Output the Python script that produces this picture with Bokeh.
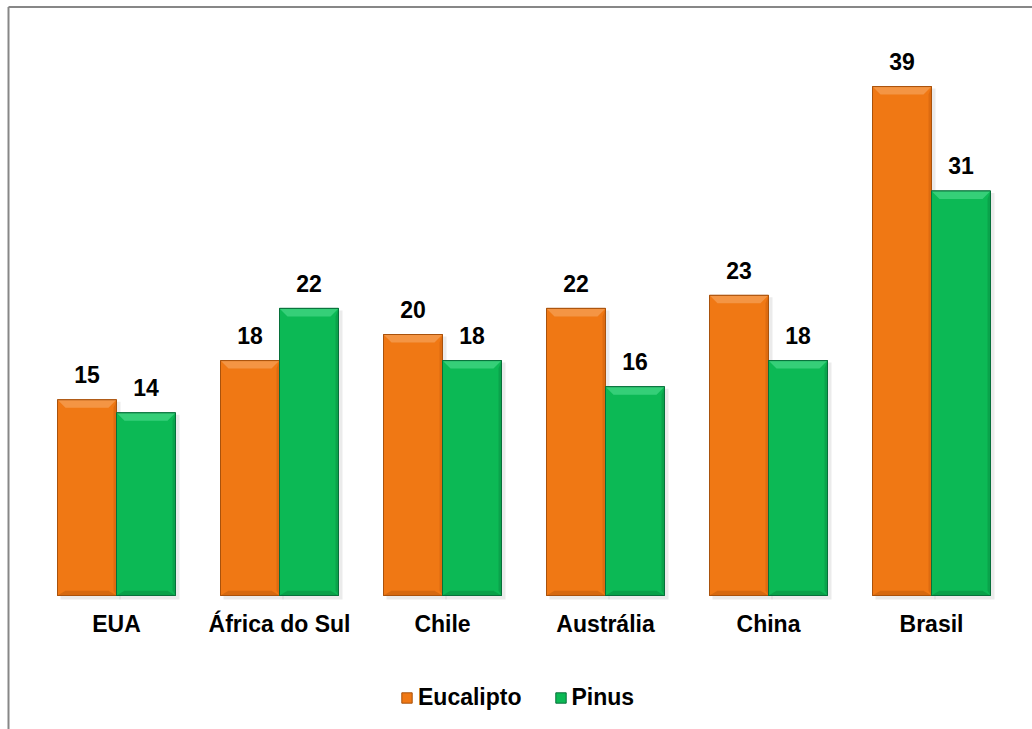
import numpy as np
from bokeh.plotting import figure
from bokeh.models import Range1d, Legend, LegendItem, ColumnDataSource
from bokeh.core.properties import value
from bokeh.embed import file_html
from bokeh.resources import INLINE

categories = ["EUA", "África do Sul", "Chile", "Austrália", "China", "Brasil"]
series_names = ["Eucalipto", "Pinus"]
eucalipto = [15, 18, 20, 22, 23, 39]
pinus = [14, 22, 18, 16, 18, 31]

W, H = 1032, 729
PX_X = 163.0   # pixels per category slot
PX_Y = 13.05   # pixels per value unit
x_start = -116 / PX_X
y_end = 595 / PX_Y
FONT = value("Liberation Sans")

p = figure(width=W, height=H, output_backend="svg", toolbar_location=None,
           x_range=Range1d(x_start, x_start + W / PX_X),
           y_range=Range1d(y_end - H / PX_Y, y_end),
           x_axis_type=None, y_axis_type=None, min_border=0,
           background_fill_color="white", border_fill_color="white")
p.grid.visible = False
p.outline_line_color = None

# chart-area border (left and top edges)
bx = x_start + 8 / PX_X
by = y_end - 6.5 / PX_Y
y_bot = y_end - H / PX_Y
x_right = x_start + W / PX_X
p.segment(x0=[bx, bx], y0=[by, by], x1=[bx, x_right], y1=[y_bot, by],
          line_color="#878787", line_width=2)

bar_w = 59 / PX_X
dx = 8 / PX_X
dy = 8 / PX_Y
idx = np.arange(len(categories))

styles = [
    dict(base="#F07814", top="#F59A4C", bottom="#C45F0D", edge="#A9520C", right="#D8680F"),
    dict(base="#0CB955", top="#3DD27F", bottom="#08913F", edge="#07703A", right="#0A9E48"),
]

renderers = []
for k, (vals, st) in enumerate(zip([eucalipto, pinus], styles)):
    vals = np.array(vals, dtype=float)
    xc = idx + (k - 0.5) * bar_w
    left = xc - bar_w / 2
    right = xc + bar_w / 2
    # soft shadow
    p.quad(left=left + 3 / PX_X, right=right + 4 / PX_X, top=vals - 2 / PX_Y,
           bottom=np.full(len(vals), -4 / PX_Y), fill_color="#000000", fill_alpha=0.08,
           line_color=None)
    src = ColumnDataSource(dict(x=xc, top=vals))
    r = p.vbar(x="x", top="top", bottom=0, width=bar_w, source=src,
               fill_color=st["base"], line_color=st["edge"], line_width=1)
    renderers.append(r)
    # top bevel
    p.patches(xs=[[l, rr, rr - dx, l + dx] for l, rr in zip(left, right)],
              ys=[[v, v, v - dy, v - dy] for v in vals],
              fill_color=st["top"], line_color=None, fill_alpha=0.85)
    # bottom bevel
    p.patches(xs=[[l, rr, rr - dx, l + dx] for l, rr in zip(left, right)],
              ys=[[0, 0, dy * 0.6, dy * 0.6] for v in vals],
              fill_color=st["bottom"], line_color=None, fill_alpha=0.6)
    # right side shade
    p.patches(xs=[[rr, rr, rr - 3 / PX_X, rr - 3 / PX_X] for rr in right],
              ys=[[v, 0, dy * 0.6, v - dy] for v in vals],
              fill_color=st["right"], line_color=None, fill_alpha=0.8)
    # outline again on top
    p.vbar(x="x", top="top", bottom=0, width=bar_w, source=src,
           fill_color=None, line_color=st["edge"], line_width=1)
    # value labels
    p.text(x=xc, y=vals, text=[str(int(v)) for v in vals], text_align="center",
           text_baseline="alphabetic", y_offset=-25, text_font=FONT,
           text_font_style="bold", text_font_size="23px", text_color="#000000")

# category labels
p.text(x=idx, y=np.zeros(len(idx)), text=categories, text_align="center",
       text_baseline="alphabetic", y_offset=28, text_font=FONT,
       text_font_style="bold", text_font_size="23px", text_color="#000000")

legend = Legend(items=[LegendItem(label=n, renderers=[r]) for n, r in zip(series_names, renderers)],
                orientation="horizontal", location=(400, 18),
                glyph_width=13, glyph_height=13, label_standoff=5, spacing=32,
                padding=0, margin=0, border_line_color=None, background_fill_alpha=0,
                label_text_font="Liberation Sans", label_text_font_style="bold",
                label_text_font_size="23px", label_text_color="#000000")
p.add_layout(legend, "center")

open("out.html", "w").write(file_html(p, INLINE))
